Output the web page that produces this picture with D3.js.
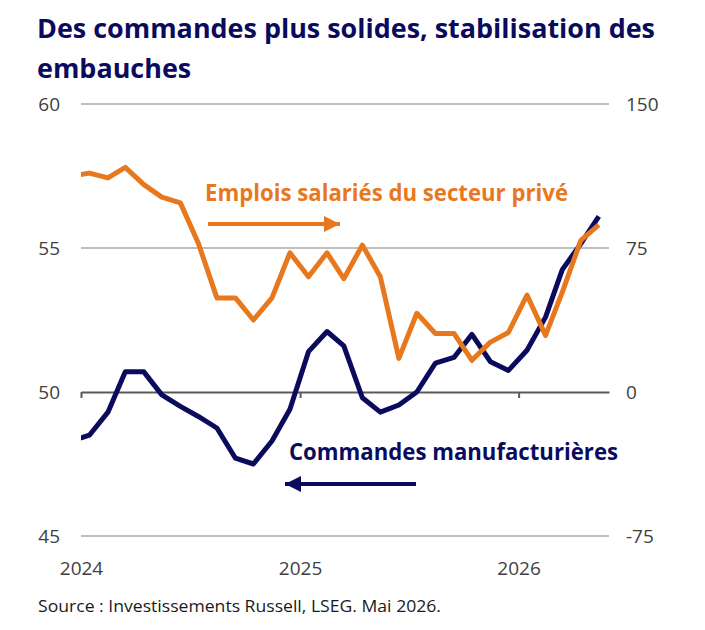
<!DOCTYPE html>
<html>
<head>
<meta charset="utf-8">
<script src="https://cdn.jsdelivr.net/npm/d3@7"></script>
<style>
  body { margin: 0; background: #fff; }
  text { font-family: "Open Sans", sans-serif; }
</style>
</head>
<body>
<div id="chart"></div>
<script>
// Donnees (mi-mois, dec. 2023 -> mai 2026)
const mois = ["2023-12","2024-01","2024-02","2024-03","2024-04","2024-05","2024-06","2024-07","2024-08","2024-09","2024-10","2024-11","2024-12",
              "2025-01","2025-02","2025-03","2025-04","2025-05","2025-06","2025-07","2025-08","2025-09","2025-10","2025-11","2025-12",
              "2026-01","2026-02","2026-03","2026-04","2026-05"]
const commandes = [48.3,48.5,49.3,50.7,50.7,49.9,49.5,49.15,48.75,47.7,47.5,48.3,49.4,
                   51.4,52.1,51.6,49.8,49.3,49.55,50.0,51.0,51.2,52.0,51.05,50.75,
                   51.45,52.6,54.25,55.15,56.1]
const emplois = [112.5,114,111.5,117,108,101.5,98.5,77.5,49,49,37.5,49,72.5,
                 60,72.5,59,76.5,60,17.5,41,30.5,30.5,16.5,26,31,
                 50.5,29.5,52,79,87]
const ticksGauche = [45,50,55,60]
const ticksDroite = [-75,0,75,150]
const annees = ["2024","2025","2026"]

const width = 705
const height = 630
const margin = { top: 104, right: 96, bottom: 94, left: 81 }
const navy = "#0b0b5e"
const orange = "#e8781e"

const svg = d3.select("#chart").append("svg").attr("width", width).attr("height", height)

// Echelles
const parse = d3.timeParse("%Y-%m-%d")
const x = d3.scaleTime()
    .domain([parse("2024-01-01"), parse("2026-06-01")])
    .range([margin.left, width - margin.right])
const yL = d3.scaleLinear().domain([45, 60]).range([height - margin.bottom, margin.top])
const yR = d3.scaleLinear().domain([-75, 150]).range([height - margin.bottom, margin.top])

const data = mois.map((m, i) => ({ date: parse(m + "-15"), c: commandes[i], e: emplois[i] }))

// Grille
svg.append("g").selectAll("line").data(ticksGauche.filter(d => d !== 50)).enter().append("line")
    .attr("x1", x.range()[0]).attr("x2", x.range()[1])
    .attr("y1", d => yL(d)).attr("y2", d => yL(d))
    .attr("stroke", "#c0c0c0").attr("stroke-width", 2)

// Axes gauche / droite
const axisL = svg.append("g").attr("transform", `translate(${margin.left},0)`)
    .call(d3.axisLeft(yL).tickValues(ticksGauche).tickSize(0).tickPadding(21).tickFormat(d => String(d)))
const axisR = svg.append("g").attr("transform", `translate(${width - margin.right},0)`)
    .call(d3.axisRight(yR).tickValues(ticksDroite).tickSize(0).tickPadding(17).tickFormat(d => String(d)))
;[axisL, axisR].forEach(g => {
    g.select(".domain").remove()
    g.selectAll("text").attr("font-size", 19).attr("fill", "#404040").attr("font-family", "Open Sans")
})

// Ligne zero avec graduations annuelles
const yearDates = annees.map(a => parse(a + "-01-01"))
const zero = svg.append("g").attr("transform", `translate(0,${yL(50)})`)
    .call(d3.axisBottom(x).tickValues(yearDates).tickSize(6).tickSizeOuter(0).tickFormat(""))
zero.select(".domain").attr("stroke", "#5a5a5a").attr("stroke-width", 2)
zero.selectAll(".tick line").attr("stroke", "#5a5a5a").attr("stroke-width", 2)

// Libelles des annees
const xLab = svg.append("g").attr("transform", `translate(0,${height - margin.bottom})`)
    .call(d3.axisBottom(x).tickValues(yearDates).tickSize(0).tickPadding(26).tickFormat(d3.timeFormat("%Y")))
xLab.select(".domain").remove()
xLab.selectAll("text").attr("font-size", 19).attr("fill", "#404040").attr("font-family", "Open Sans")

// Courbes
svg.append("clipPath").attr("id", "clip").append("rect")
    .attr("x", x.range()[0]).attr("y", 0).attr("width", x.range()[1] - x.range()[0]).attr("height", height)

const lineC = d3.line().x(d => x(d.date)).y(d => yL(d.c))
const lineE = d3.line().x(d => x(d.date)).y(d => yR(d.e))

const lines = svg.append("g").attr("clip-path", "url(#clip)")
lines.append("path").datum(data).attr("d", lineC)
    .attr("fill", "none").attr("stroke", navy).attr("stroke-width", 5).attr("stroke-linejoin", "round")
lines.append("path").datum(data).attr("d", lineE)
    .attr("fill", "none").attr("stroke", orange).attr("stroke-width", 5).attr("stroke-linejoin", "round")

// Fleches
const defs = svg.append("defs")
function marker(id, color) {
    defs.append("marker").attr("id", id).attr("viewBox", "0 0 10 10")
        .attr("refX", 10).attr("refY", 5).attr("markerWidth", 4).attr("markerHeight", 4)
        .attr("markerUnits", "strokeWidth").attr("orient", "auto")
        .append("path").attr("d", "M0,0L10,5L0,10z").attr("fill", color)
}
marker("arrO", orange)
marker("arrN", navy)
svg.append("line").attr("x1", 208).attr("x2", 340).attr("y1", 224).attr("y2", 224)
    .attr("stroke", orange).attr("stroke-width", 4).attr("marker-end", "url(#arrO)")
svg.append("line").attr("x1", 416).attr("x2", 285).attr("y1", 484).attr("y2", 484)
    .attr("stroke", navy).attr("stroke-width", 4).attr("marker-end", "url(#arrN)")

// Textes ajustes en largeur
function fitText(sel, w) {
    const n = sel.node().getComputedTextLength()
    sel.attr("textLength", w).attr("lengthAdjust", "spacingAndGlyphs")
    return w / n
}

const titre1 = svg.append("text").attr("x", 37).attr("y", 38)
    .attr("font-size", 27).attr("font-weight", 700).attr("fill", navy)
    .text("Des commandes plus solides, stabilisation des")
const ratio = fitText(titre1, 618)
const titre2 = svg.append("text").attr("x", 37).attr("y", 78)
    .attr("font-size", 27).attr("font-weight", 700).attr("fill", navy)
    .text("embauches")
titre2.attr("textLength", titre2.node().getComputedTextLength() * ratio).attr("lengthAdjust", "spacingAndGlyphs")

const labE = svg.append("text").attr("x", 205).attr("y", 201)
    .attr("font-size", 23).attr("font-weight", 700).attr("fill", orange)
    .text("Emplois salariés du secteur privé")
fitText(labE, 363)

const labC = svg.append("text").attr("x", 289).attr("y", 460)
    .attr("font-size", 23).attr("font-weight", 700).attr("fill", navy)
    .text("Commandes manufacturières")
fitText(labC, 329)

const source = svg.append("text").attr("x", 38).attr("y", 612)
    .attr("font-size", 16).attr("fill", "#1a1a1a")
    .text("Source : Investissements Russell, LSEG. Mai 2026.")
fitText(source, 403)
</script>
</body>
</html>
